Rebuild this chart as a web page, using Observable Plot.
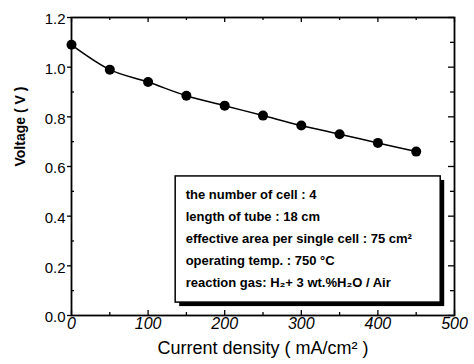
<!DOCTYPE html>
<html>
<head>
<meta charset="utf-8">
<script src="https://cdn.jsdelivr.net/npm/d3@7"></script>
<script src="https://cdn.jsdelivr.net/npm/@observablehq/plot@0.6"></script>
<style>
  body { margin: 0; background: #fff; }
  #chart svg { display: block; }
  #chart g[aria-label="x-axis tick label"] text { font-style: italic; }
</style>
</head>
<body>
<div id="chart"></div>
<script>
// Stack polarisation: current density (mA/cm²) vs. voltage (V)
const currentDensity = [0, 50, 100, 150, 200, 250, 300, 350, 400, 450];
const voltage = [1.09, 0.99, 0.94, 0.885, 0.845, 0.805, 0.765, 0.73, 0.695, 0.66];

const xTicks = [0, 100, 200, 300, 400, 500];
const xMinorTicks = [50, 150, 250, 350, 450];
const yTicks = [0, 0.2, 0.4, 0.6, 0.8, 1.0, 1.2];
const yMinorTicks = [0.1, 0.3, 0.5, 0.7, 0.9, 1.1];

const xTitle = "Current density ( mA/cm² )";
const yTitle = "Voltage ( V )";

const noteLines = [
  "the number of cell : 4",
  "length of tube : 18 cm",
  "effective area per single cell : 75 cm²",
  "operating temp. : 750 °C",
  "reaction gas: H₂+ 3 wt.%H₂O / Air"
];

const points = currentDensity.map((x, i) => ({x, v: voltage[i]}));

// layout
const W = 474, H = 364;
const mL = 71, mR = 20, mT = 17, mB = 49;
const fw = W - mL - mR, fh = H - mT - mB;

// conditions box, in the chart's own units
const noteBox = {x1: 136, x2: 482, y1: 0.052, y2: 0.56};

const chart = Plot.plot({
  width: W,
  height: H,
  marginLeft: mL,
  marginRight: mR,
  marginTop: mT,
  marginBottom: mB,
  style: {fontFamily: "'Liberation Sans', Arial, sans-serif", color: "#000", background: "#fff"},
  x: {domain: [0, 500]},
  y: {domain: [0, 1.2]},
  marks: [
    // conditions box with drop shadow
    Plot.rect([noteBox], {x1: "x1", x2: "x2", y1: "y1", y2: "y2", fill: "#000", dx: 4, dy: 4}),
    Plot.rect([noteBox], {x1: "x1", x2: "x2", y1: "y1", y2: "y2", fill: "#fff", stroke: "#000", strokeWidth: 1.5}),
    Plot.text([noteLines.join("\n")], {
      x: noteBox.x1, y: noteBox.y2, dx: 10, dy: 7,
      textAnchor: "start", lineAnchor: "top", lineHeight: 22 / 13,
      fontSize: 13, fontWeight: "bold", fill: "#000"
    }),

    // curve and measured points
    Plot.line(points, {x: "x", y: "v", curve: "monotone-x", stroke: "#000", strokeWidth: 1.5}),
    Plot.dot(points, {x: "x", y: "v", r: 5, fill: "#000"}),

    Plot.frame({stroke: "#000", strokeWidth: 1.8}),

    // tick marks on all four sides
    Plot.tickX(xTicks, {x: d => d, insetTop: fh - 5, stroke: "#000", strokeWidth: 1.3}),
    Plot.tickX(xMinorTicks, {x: d => d, insetTop: fh - 3, stroke: "#000", strokeWidth: 1.3}),
    Plot.tickX(xTicks, {x: d => d, insetBottom: fh - 5, stroke: "#000", strokeWidth: 1.3}),
    Plot.tickX(xMinorTicks, {x: d => d, insetBottom: fh - 3, stroke: "#000", strokeWidth: 1.3}),
    Plot.tickY(yTicks, {y: d => d, insetLeft: -4, insetRight: fw, stroke: "#000", strokeWidth: 1.3}),
    Plot.tickY(yMinorTicks, {y: d => d, insetRight: fw - 3, stroke: "#000", strokeWidth: 1.3}),
    Plot.tickY(yTicks, {y: d => d, insetLeft: fw - 6, stroke: "#000", strokeWidth: 1.3}),
    Plot.tickY(yMinorTicks, {y: d => d, insetLeft: fw - 4, stroke: "#000", strokeWidth: 1.3}),

    // tick labels
    Plot.axisX(xTicks, {anchor: "bottom", tickSize: 0, tickPadding: 2, fontSize: 16, fontStyle: "italic", label: null, tickFormat: d => String(d), fill: "#000"}),
    Plot.axisY(yTicks, {anchor: "left", tickSize: 0, tickPadding: 6, fontSize: 15, label: null, tickFormat: d3.format(".1f"), dy: 2, fill: "#000"}),

    // axis titles
    Plot.text([xTitle], {frameAnchor: "bottom", dy: 38, fontSize: 18, fill: "#000"}),
    Plot.text([yTitle], {frameAnchor: "left", dx: -51, rotate: -90, fontSize: 14, fontWeight: "bold", fill: "#000"})
  ]
});

document.getElementById("chart").append(chart);
</script>
</body>
</html>
